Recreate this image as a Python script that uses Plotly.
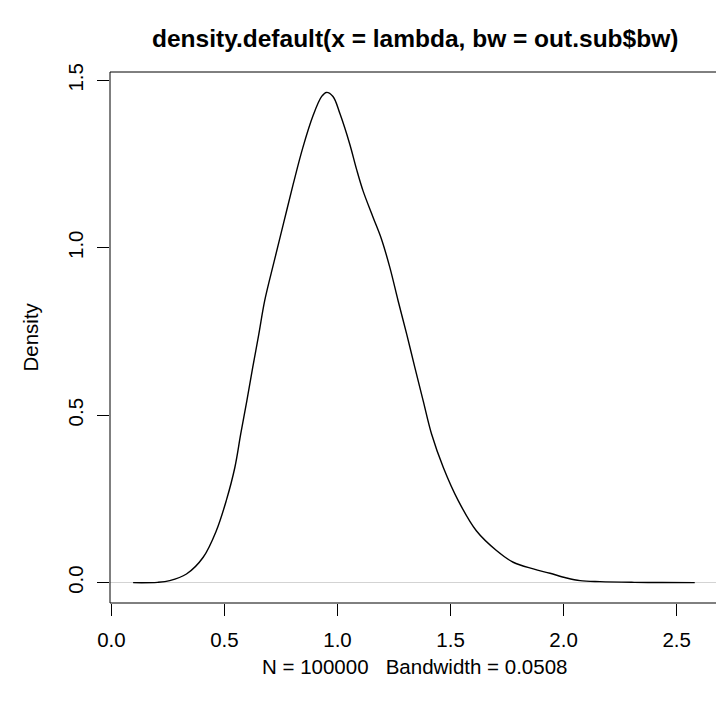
import plotly.graph_objects as go

# traced density curve
lam_x = [0.096, 0.204, 0.258, 0.332, 0.406, 0.464, 0.508, 0.546, 0.572, 0.599, 0.625, 0.652,
         0.678, 0.720, 0.762, 0.804, 0.847, 0.892, 0.930, 0.951, 0.980, 1.011, 1.054, 1.084,
         1.113, 1.158, 1.195, 1.232, 1.268, 1.306, 1.342, 1.379, 1.416, 1.468, 1.534, 1.614,
         1.703, 1.777, 1.866, 1.940, 2.013, 2.073, 2.161, 2.312, 2.433, 2.58]
dens_y = [0.0, 0.001, 0.006, 0.026, 0.076, 0.155, 0.245, 0.344, 0.444, 0.543, 0.643, 0.742,
          0.842, 0.96, 1.075, 1.19, 1.30, 1.395, 1.452, 1.464, 1.452, 1.40, 1.31, 1.235,
          1.17, 1.09, 1.025, 0.940, 0.842, 0.742, 0.643, 0.543, 0.444, 0.344, 0.245, 0.155,
          0.096, 0.061, 0.041, 0.028, 0.014, 0.006, 0.003, 0.001, 0.0003, 0.0]

x_ticks = [0.0, 0.5, 1.0, 1.5, 2.0, 2.5]
x_tick_labels = ["0.0", "0.5", "1.0", "1.5", "2.0", "2.5"]
y_ticks = [0.0, 0.5, 1.0, 1.5]
y_tick_labels = ["0.0", "0.5", "1.0", "1.5"]

title_text = "density.default(x = lambda, bw = out.sub$bw)"
xlab_text = "N = 100000\u00a0\u00a0 Bandwidth = 0.0508"
ylab_text = "Density"

FONT = "Liberation Sans, Arial, Helvetica, sans-serif"

fig = go.Figure()
fig.add_trace(go.Scatter(x=lam_x, y=dens_y, mode="lines",
                         line=dict(color="black", width=1.4, shape="spline", smoothing=1.0),
                         hoverinfo="skip", showlegend=False))

W, H = 716, 709
ml, mr, mt, mb = 110, 0, 72, 106

fig.update_layout(
    width=W, height=H,
    margin=dict(l=ml, r=mr, t=mt, b=mb, pad=0),
    paper_bgcolor="white", plot_bgcolor="white",
    font=dict(family=FONT, color="black", size=20),
    xaxis=dict(range=[-0.0062, 2.674], tickvals=x_ticks, ticktext=x_tick_labels,
               ticks="outside", ticklen=12, tickwidth=1, tickcolor="black",
               showgrid=False, zeroline=False, showline=False, ticklabelstandoff=6,
               tickfont=dict(size=20.5, family=FONT), fixedrange=True),
    yaxis=dict(range=[-0.0607, 1.525], tickvals=y_ticks, ticktext=y_tick_labels,
               ticks="outside", ticklen=12, tickwidth=1, tickcolor="black",
               tickangle=-90, showgrid=False, showline=False, ticklabelstandoff=6,
               zeroline=True, zerolinecolor="#d3d3d3", zerolinewidth=1,
               tickfont=dict(size=20.5, family=FONT), fixedrange=True),
    showlegend=False,
)

# R style box (right side lies outside the image)
for x0, y0, x1, y1 in [(0, 0, 1, 0), (0, 1, 1, 1), (0, 0, 0, 1)]:
    fig.add_shape(type="line", xref="paper", yref="paper", x0=x0, y0=y0, x1=x1, y1=y1,
                  line=dict(color="black", width=1))

fig.add_annotation(text="<b>" + title_text + "</b>", xref="paper", yref="paper",
                   x=0.503, y=1, yshift=34, xanchor="center", yanchor="middle",
                   showarrow=False, font=dict(size=24.5, family=FONT))
fig.add_annotation(text=xlab_text, xref="paper", yref="paper",
                   x=0.503, y=0, yshift=-63, xanchor="center", yanchor="middle",
                   showarrow=False, font=dict(size=20.5, family=FONT))
fig.add_annotation(text=ylab_text, xref="paper", yref="paper",
                   x=0, xshift=-80, y=0.5, textangle=-90, xanchor="center", yanchor="middle",
                   showarrow=False, font=dict(size=20.5, family=FONT))

fig.write_html("out.html", config={"displayModeBar": False},
               post_script="document.body.style.margin='0';document.body.style.overflow='hidden';")
